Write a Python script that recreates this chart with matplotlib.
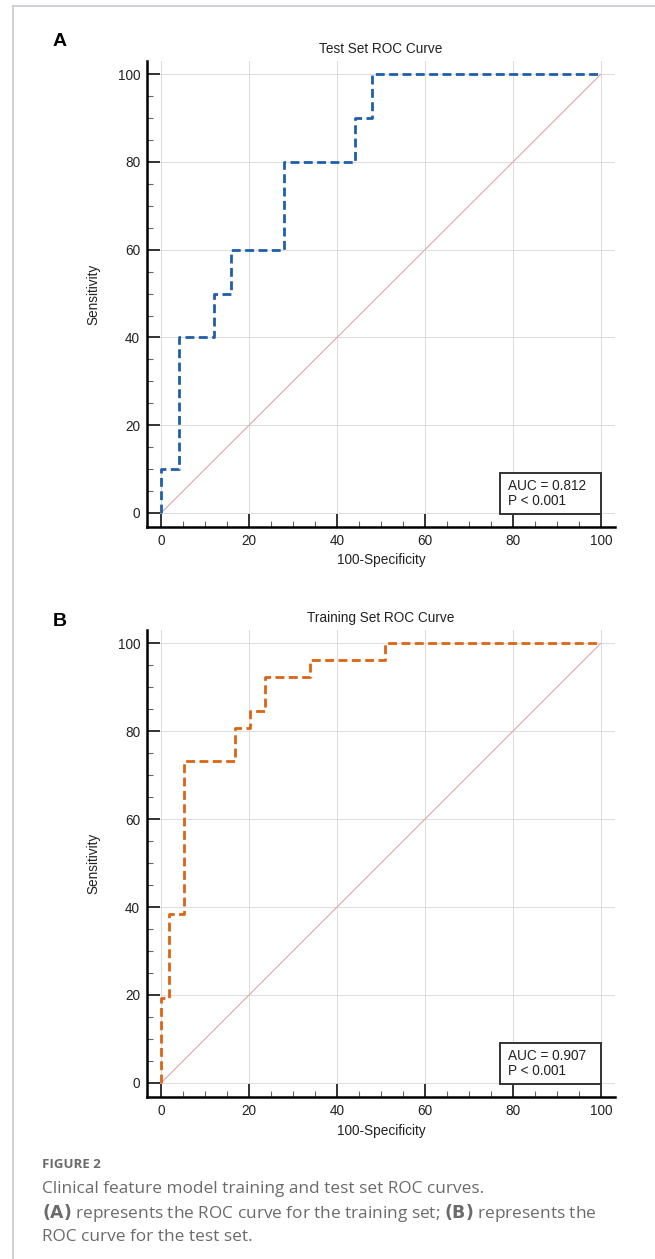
import matplotlib
matplotlib.use("Agg")
import matplotlib.pyplot as plt
import numpy as np
from matplotlib.ticker import MultipleLocator
from matplotlib.patches import Rectangle

plt.rcParams['font.family'] = ['Liberation Sans', 'DejaVu Sans']

# test set ROC (panel A)
test_fpr = [0, 0, 4, 4, 12, 12, 16, 16, 28, 28, 44, 44, 48, 48, 100]
test_tpr = [0, 10, 10, 40, 40, 50, 50, 60, 60, 80, 80, 90, 90, 100, 100]
test_auc = "0.812"

# training set ROC (panel B)
train_fpr = [0, 0, 1.7, 1.7, 5.1, 5.1, 16.9, 16.9, 20.3, 20.3, 23.7, 23.7, 33.9, 33.9, 50.8, 50.8, 100]
train_tpr = [0, 19.2, 19.2, 38.5, 38.5, 73.1, 73.1, 80.8, 80.8, 84.6, 84.6, 92.3, 92.3, 96.2, 96.2, 100, 100]
train_auc = "0.907"

ticks = [0, 20, 40, 60, 80, 100]

W, H = 655, 1259
fig = plt.figure(figsize=(W / 100, H / 100), dpi=100)
FS = 9.8


def px(x0, y0, x1, y1):
    # pixel box -> figure fraction rect
    return [x0 / W, 1 - y1 / H, (x1 - x0) / W, (y1 - y0) / H]


def roc_panel(rect, fpr, tpr, color, title, auc, letter, letter_y):
    ax = fig.add_axes(rect)
    ax.set_xlim(-3.2, 103.2)
    ax.set_ylim(-3.2, 103.0)
    ax.grid(True, color="#dcdcdc", linewidth=0.7)
    ax.set_axisbelow(True)
    ax.plot([0, 100], [0, 100], color="#dba8a8", linewidth=0.8, zorder=2)
    ax.plot(fpr, tpr, color=color, linewidth=2.0, dashes=(3.2, 1.6), zorder=3)
    for s in ["top", "right"]:
        ax.spines[s].set_visible(False)
    for s in ["left", "bottom"]:
        ax.spines[s].set_linewidth(1.8)
        ax.spines[s].set_color("black")
    ax.set_xticks(ticks)
    ax.set_yticks(ticks)
    ax.xaxis.set_minor_locator(MultipleLocator(5))
    ax.yaxis.set_minor_locator(MultipleLocator(5))
    ax.tick_params(which="major", direction="in", length=9.5, width=1.4,
                   colors="#333333", labelcolor="#222222", labelsize=FS, pad=5)
    ax.tick_params(which="minor", direction="in", length=4.5, width=0.8, colors="#666666")
    ax.set_title(title, fontsize=FS, color="#222222", pad=6)
    ax.set_xlabel("100-Specificity", fontsize=FS, color="#222222", labelpad=4)
    ax.set_ylabel("Sensitivity", fontsize=FS, color="#222222", labelpad=12)
    # AUC box
    ax.add_patch(Rectangle((77, -0.3), 23, 9.4, facecolor="white", edgecolor="#333333",
                           linewidth=1.4, zorder=5))
    ax.text(78.8, 7.8, "AUC = " + auc + "\nP < 0.001", fontsize=FS, color="#222222",
            va="top", ha="left", linespacing=1.15, zorder=6)
    fig.text(60 / W, 1 - letter_y / H, letter, fontsize=14, fontweight="bold",
             ha="center", va="center")
    return ax


roc_panel(px(147, 61, 615, 527), test_fpr, test_tpr, "#1f5fa8",
          "Test Set ROC Curve", test_auc, "A", 42)
roc_panel(px(147, 630, 615, 1097), train_fpr, train_tpr, "#dd6414",
          "Training Set ROC Curve", train_auc, "B", 622)

# outer frame lines
fig.add_artist(plt.Line2D([13 / W, 1], [1 - 6 / H, 1 - 6 / H], color="#c8c8d0", linewidth=1.2))
fig.add_artist(plt.Line2D([13 / W, 13 / W], [0, 1 - 6 / H], color="#c8c8d0", linewidth=1.2))

# caption
cap = ["Open Sans", "DejaVu Sans"]
fig.text(42 / W, 1 - 1165 / H, "FIGURE 2", fontsize=9.5, fontweight="bold",
         color="#6b6b6b", family=cap, va="center")
fig.text(42 / W, 1 - 1189 / H, "Clinical feature model training and test set ROC curves.",
         fontsize=12.4, color="#6b6b6b", family=cap, va="center")
fig.text(42 / W, 1 - 1213 / H,
         r"$\bf{(A)}$ represents the ROC curve for the training set; $\bf{(B)}$ represents the",
         fontsize=12.4, color="#6b6b6b", family=cap, va="center")
fig.text(42 / W, 1 - 1237 / H, "ROC curve for the test set.",
         fontsize=12.4, color="#6b6b6b", family=cap, va="center")

fig.savefig("out.png", dpi=100)
